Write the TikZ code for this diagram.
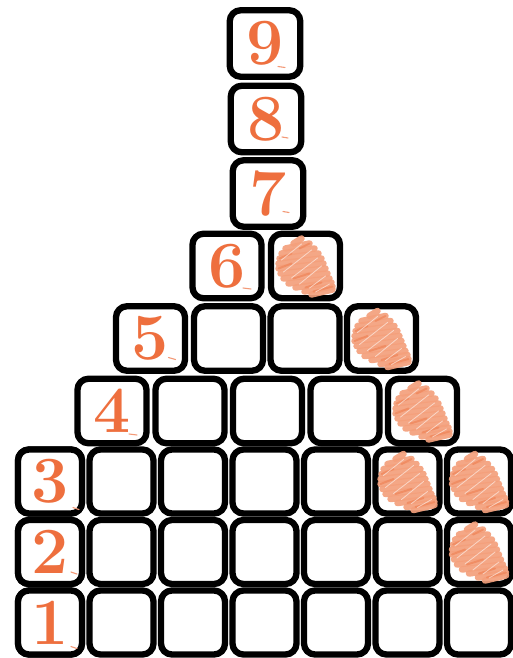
\documentclass[tikz,border=0pt]{standalone}
\definecolor{numor}{HTML}{EE6F3E}
\definecolor{scribc}{HTML}{F4A07C}
\definecolor{scribd}{HTML}{EF8458}
\tikzset{
  cubebase/.style={draw=black, line width=6.3pt, rounded corners=11pt, fill=white, inner sep=0pt,
    text=numor, font=\fontsize{66}{66}\selectfont\bfseries},
  smallcube/.style={cubebase, minimum width=64pt, minimum height=64pt},
  bigcube/.style={cubebase, minimum width=69pt, minimum height=64.5pt},
  topcube/.style={cubebase, minimum width=70.5pt, minimum height=66.5pt},
  dashmark/.style={draw=numor!70, line width=1.1pt, line cap=round},
  scribstroke/.style={draw=scribc, line width=6.5pt, line cap=round, opacity=0.92},
  scribedge/.style={draw=scribd, line width=2pt, line cap=round, opacity=0.7},
  scribtex/.style={draw=white, line width=0.8pt, opacity=0.55, line cap=round},
  scribble/.pic={
    \foreach \yy/\xa/\xb in {-25/-12/-4, -20/-20/4, -15/-24/9, -10/-26/13, -5/-27/16, 0/-27/18,
                             5/-25/20, 10/-22/22, 15/-17/24, 19/-10/26, 23/-1/27, 26/6/27}{
      \draw[scribstroke] (\xa,\yy+2.5) -- (\xb,\yy-2.5);
    }
    \foreach \yy/\xa/\xb in {-10/-26/-14, 0/-27/-14, 10/-12/4, 19/0/16, 23/8/27, -20/-6/4}{
      \draw[scribedge] (\xa,\yy+2.5) -- (\xb,\yy-2.5);
    }
    \foreach \sx/\sy/\ex/\ey in {-24/-6/-4/-22, -22/6/6/-16, -14/12/12/-8, -6/18/16/0, 4/22/20/10, 10/26/24/18}{
      \draw[scribtex] (\sx,\sy) -- (\ex,\ey);
    }
  }
}
\begin{document}
\begin{tikzpicture}[x=1pt,y=-1pt]
\useasboundingbox (0,0) rectangle (512,658);
% rows 1-3
\foreach \c/\x in {1/50,2/121.5,3/193,4/264.5,5/336,6/407.5,7/479}{
  \node[smallcube] (r1c\c) at (\x,622.5) {};
  \node[smallcube] (r2c\c) at (\x,552) {};
  \node[smallcube] (r3c\c) at (\x,481.5) {};
}
\node[smallcube] (n1) at (50,622.5) {1};
\node[smallcube] (n2) at (50,552) {2};
\node[smallcube] (n3) at (50,481.5) {3};
% row 4
\node[bigcube] (n4) at (112,411) {4};
\node[bigcube] (r4c2) at (190,411) {};
\node[bigcube] (r4c3) at (267.5,411) {};
\node[bigcube] (r4c4) at (345,411) {};
\node[bigcube] (r4c5) at (422.5,411) {};
% row 5
\node[bigcube] (n5) at (150.5,338.5) {5};
\node[bigcube] (r5c2) at (228.5,338.5) {};
\node[bigcube] (r5c3) at (305,338.5) {};
\node[bigcube] (r5c4) at (381.5,338.5) {};
% row 6
\node[bigcube] (n6) at (227,266) {6};
\node[bigcube] (r6c2) at (305.5,266) {};
% rows 7-9
\node[topcube] (n7) at (268,193.5) {7};
\node[topcube] (n8) at (266,119) {8};
\node[topcube] (n9) at (265,43.5) {9};
% scribbles
\pic at (r2c7.center) {scribble};
\pic at (r3c6.center) {scribble};
\pic at (r3c7.center) {scribble};
\pic at (r4c5.center) {scribble};
\pic at (r5c4.center) {scribble};
\pic at (r6c2.center) {scribble};
% dash marks
\draw[dashmark] ([shift={(21,24)}]n1.center) -- +(6,2);
\draw[dashmark] ([shift={(21,20)}]n2.center) -- +(6,2);
\draw[dashmark] ([shift={(23,26)}]n3.center) -- +(6,2);
\draw[dashmark] ([shift={(17,23)}]n4.center) -- +(8,1);
\draw[dashmark] ([shift={(18,19)}]n5.center) -- +(7,2);
\draw[dashmark] ([shift={(16,22)}]n6.center) -- +(8,1);
\draw[dashmark] ([shift={(15,18)}]n7.center) -- +(6,1);
\draw[dashmark] ([shift={(16,18)}]n8.center) -- +(6,1);
\draw[dashmark] ([shift={(13,23)}]n9.center) -- +(7,1);
\end{tikzpicture}
\end{document}
